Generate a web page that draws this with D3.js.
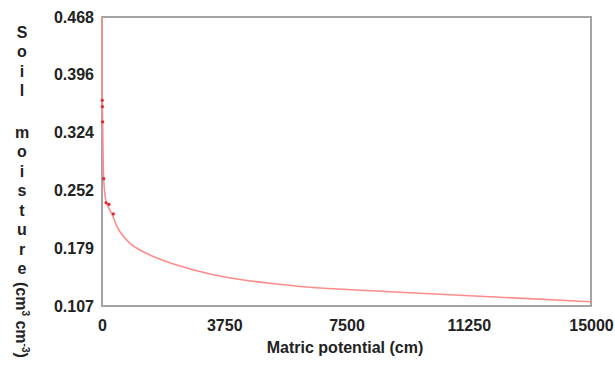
<!DOCTYPE html>
<html>
<head>
<meta charset="utf-8">
<script src="https://cdn.jsdelivr.net/npm/d3@7"></script>
<style>
  body { margin: 0; background: #fff; }
  text { font-family: "Liberation Sans", Arial, sans-serif; font-weight: bold; fill: #222; }
</style>
</head>
<body>
<div id="chart"></div>
<script>
// fitted retention curve (cm, cm3/cm3)
const curvePotential = [0, 2, 5, 8, 12, 20, 35, 52, 123, 215, 347, 450, 552, 859, 1267, 1779, 2291, 3312, 4334, 5359, 6380, 7813, 9755, 12209, 15000];
const curveMoisture = [0.468, 0.43, 0.39, 0.364, 0.355, 0.335, 0.29, 0.266, 0.238, 0.229, 0.218, 0.207, 0.1998, 0.1853, 0.1748, 0.1653, 0.1582, 0.147, 0.1395, 0.1345, 0.1304, 0.127, 0.1229, 0.1179, 0.1124];

// measured points
const obsPotential = [8, 12, 20, 52, 123, 215, 347];
const obsMoisture = [0.364, 0.356, 0.337, 0.266, 0.236, 0.234, 0.222];

const xTicks = [0, 3750, 7500, 11250, 15000];
const yTicks = [0.107, 0.179, 0.252, 0.324, 0.396, 0.468];

const width = 615, height = 370;
const margin = {left: 102, right: 24, top: 17, bottom: 64};

const svg = d3.select("#chart").append("svg")
  .attr("width", width)
  .attr("height", height);

const xScale = d3.scaleLinear()
  .domain([0, 15000])
  .range([margin.left, width - margin.right]);

const yScale = d3.scaleLinear()
  .domain([0.107, 0.468])
  .range([height - margin.bottom, margin.top]);

// frame
svg.append("rect")
  .attr("x", xScale(0))
  .attr("y", yScale(0.468))
  .attr("width", xScale(15000) - xScale(0))
  .attr("height", yScale(0.107) - yScale(0.468))
  .attr("fill", "none")
  .attr("stroke", "#a4a4a4")
  .attr("stroke-width", 2);

// axes without tick marks
const xAxis = d3.axisBottom(xScale).tickValues(xTicks).tickSize(0).tickPadding(14).tickFormat(d3.format("d"));
const yAxis = d3.axisLeft(yScale).tickValues(yTicks).tickSize(0).tickPadding(8).tickFormat(d3.format(".3f"));

const gx = svg.append("g")
  .attr("transform", `translate(0, ${yScale(0.107)})`)
  .call(xAxis);
const gy = svg.append("g")
  .attr("transform", `translate(${xScale(0)}, 0)`)
  .call(yAxis);
[gx, gy].forEach(g => {
  g.select(".domain").remove();
  g.selectAll("text")
    .attr("fill", "#222")
    .style("font-size", "16px")
    .style("font-family", "'Liberation Sans', Arial, sans-serif")
    .style("font-weight", "bold");
});

const curve = curvePotential.map((p, i) => ({p: p, m: curveMoisture[i]}));
const line = d3.line()
  .x(d => xScale(d.p))
  .y(d => yScale(d.m))
  .curve(d3.curveMonotoneX);

svg.append("path")
  .datum(curve)
  .attr("d", line)
  .attr("fill", "none")
  .attr("stroke", "#ff8c8c")
  .attr("stroke-width", 1.6);

svg.selectAll(".obs")
  .data(obsPotential.map((p, i) => ({p: p, m: obsMoisture[i]})))
  .enter()
  .append("circle")
    .attr("class", "obs")
    .attr("cx", d => xScale(d.p))
    .attr("cy", d => yScale(d.m))
    .attr("r", 1.6)
    .attr("fill", "#e8202a");

// x title
svg.append("text")
  .attr("x", 345)
  .attr("y", 353)
  .attr("text-anchor", "middle")
  .style("font-size", "16px")
  .text("Matric potential (cm)");

// y title: stacked letters then rotated units
const stacked = "Soil moisture".split("");
let yy = 32;
stacked.forEach(ch => {
  if (ch === " ") { yy += 22; return; }
  svg.append("text")
    .attr("x", 22)
    .attr("y", yy)
    .attr("dy", "0.35em")
    .attr("text-anchor", "middle")
    .style("font-size", "16px")
    .text(ch);
  yy += 19.5;
});

const units = svg.append("text")
  .attr("transform", "translate(16, 282) rotate(90)")
  .style("font-size", "16px");
units.append("tspan").text("(cm");
units.append("tspan").attr("dy", -6).style("font-size", "10px").text("3");
units.append("tspan").attr("dy", 6).text(" cm");
units.append("tspan").attr("dy", -6).style("font-size", "10px").text("-3");
units.append("tspan").attr("dy", 6).text(")");
</script>
</body>
</html>
